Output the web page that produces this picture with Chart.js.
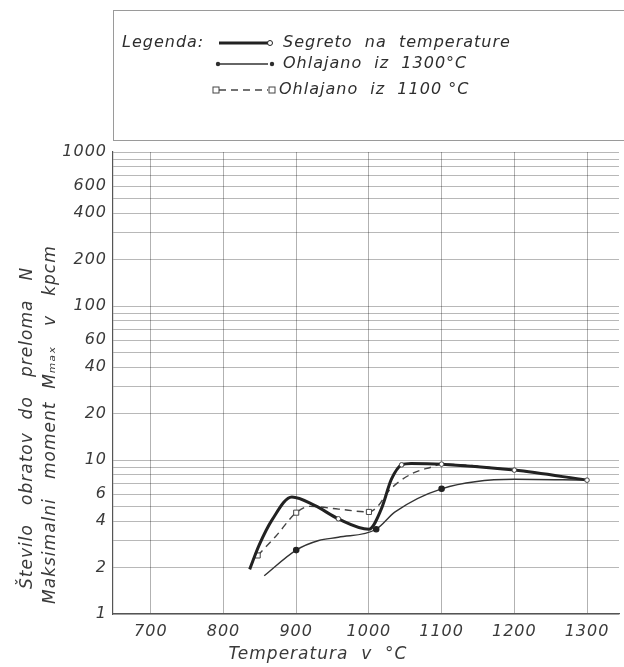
<!DOCTYPE html>
<html>
<head>
<meta charset="utf-8">
<script src="https://cdn.jsdelivr.net/npm/chart.js@4/dist/chart.umd.min.js"></script>
<style>
  html, body { margin: 0; padding: 0; background: #fff; }
  #wrap { width: 624px; height: 667px; }
</style>
</head>
<body>
<div id="wrap"><canvas id="chart" width="624" height="667"></canvas></div>
<script>
// values (temperature in degC, value on log scale)
const segretoTemp = [836, 849, 867, 894, 926, 958, 1000, 1017, 1031, 1045, 1058, 1100, 1200, 1300];
const segretoVal  = [1.95, 2.8, 4.1, 5.75, 5.05, 4.15, 3.55, 4.8, 7.5, 9.3, 9.5, 9.4, 8.6, 7.4];
const segretoMarks = [958, 1045, 1100, 1200, 1300];

const ohl1300Temp = [856, 900, 931, 958, 1010, 1036, 1100, 1200, 1300];
const ohl1300Val  = [1.77, 2.6, 3.0, 3.15, 3.55, 4.6, 6.5, 7.5, 7.4];
const ohl1300Marks = [900, 1010, 1100];

const ohl1100Temp = [847, 872, 900, 919, 958, 1000, 1013, 1026, 1058, 1086, 1100, 1200, 1300];
const ohl1100Val  = [2.4, 3.2, 4.55, 5.0, 4.8, 4.6, 5.05, 6.2, 8.1, 9.0, 9.4, 8.6, 7.4];
const ohl1100Marks = [847, 900, 1000];

const xTicks = [700, 800, 900, 1000, 1100, 1200, 1300];
const yLabels = [1, 2, 4, 6, 10, 20, 40, 60, 100, 200, 400, 600, 1000];

const seriesNames = ['Segreto  na  temperature', 'Ohlajano  iz  1300°C', 'Ohlajano  iz  1100 °C'];

const ink = '#2e2e2e';
const fontFam = "'DejaVu Sans', sans-serif";

function toPoints(xs, ys) {
  return xs.map((x, i) => ({ x: x, y: ys[i] }));
}

// log paper grid: 1..9 in every decade
function logGrid(min, max) {
  const out = [];
  for (let d = min; d < max; d *= 10) {
    for (let k = 1; k < 10; k++) out.push(k * d);
  }
  out.push(max);
  return out;
}

function markRadius(marks, r) {
  return ctx => (marks.includes(ctx.raw && ctx.raw.x) ? r : 0);
}

// hand drawn legend box above the plot
const legendBox = {
  id: 'legendBox',
  beforeLayout(chart) { chart.ctx.letterSpacing = '1px'; },
  beforeDraw(chart) { chart.ctx.letterSpacing = '1px'; },
  afterDraw(chart) {
    const c = chart.ctx;
    const ds = chart.data.datasets;
    c.save();
    c.strokeStyle = '#9a9a9a';
    c.lineWidth = 1;
    c.strokeRect(113.5, 10.5, 520, 130);

    c.fillStyle = ink;
    c.font = "italic 16px " + fontFam;
    c.textBaseline = 'middle';
    c.fillText('Legenda:', 122, 43);

    const rows = [43, 64, 90];
    rows.forEach((y, i) => {
      const d = ds[i];
      c.strokeStyle = d.borderColor;
      c.lineWidth = d.borderWidth;
      c.setLineDash(d.borderDash || []);
      c.beginPath();
      c.moveTo(219, y);
      c.lineTo(268, y);
      c.stroke();
      c.setLineDash([]);
      c.lineWidth = 1;
      if (i === 0) {
        c.fillStyle = '#fff';
        c.beginPath(); c.arc(270, y, 2.5, 0, Math.PI * 2); c.fill(); c.stroke();
      } else if (i === 1) {
        c.fillStyle = ink;
        [218, 272].forEach(px => { c.beginPath(); c.arc(px, y, 2.2, 0, Math.PI * 2); c.fill(); });
      } else {
        c.fillStyle = '#fff';
        [216, 272].forEach(px => { c.fillRect(px - 3, y - 3, 6, 6); c.strokeRect(px - 3, y - 3, 6, 6); });
      }
      c.fillStyle = ink;
      c.fillText(seriesNames[i], i === 2 ? 279 : 283, y);
    });
    c.restore();
  }
};

new Chart(document.getElementById('chart'), {
  type: 'line',
  data: {
    datasets: [
      {
        label: seriesNames[0],
        data: toPoints(segretoTemp, segretoVal),
        borderColor: '#222',
        borderWidth: 3,
        pointStyle: 'circle',
        pointRadius: markRadius(segretoMarks, 2.3),
        pointBackgroundColor: '#fff',
        pointBorderColor: '#444',
        pointBorderWidth: 1,
        cubicInterpolationMode: 'monotone'
      },
      {
        label: seriesNames[1],
        data: toPoints(ohl1300Temp, ohl1300Val),
        borderColor: '#333',
        borderWidth: 1.4,
        pointStyle: 'circle',
        pointRadius: markRadius(ohl1300Marks, 2.6),
        pointBackgroundColor: '#222',
        pointBorderColor: '#222',
        cubicInterpolationMode: 'monotone'
      },
      {
        label: seriesNames[2],
        data: toPoints(ohl1100Temp, ohl1100Val),
        borderColor: '#444',
        borderWidth: 1.4,
        borderDash: [7, 5],
        pointStyle: 'rect',
        pointRadius: markRadius(ohl1100Marks, 3.6),
        pointBackgroundColor: '#fff',
        pointBorderColor: '#444',
        pointBorderWidth: 1,
        cubicInterpolationMode: 'monotone'
      }
    ]
  },
  options: {
    responsive: false,
    animation: false,
    layout: { padding: { top: 152, right: 0, left: 0, bottom: 0 } },
    plugins: { legend: { display: false }, tooltip: { enabled: false } },
    scales: {
      x: {
        type: 'linear',
        min: 648,
        max: 1344,
        afterBuildTicks: s => { s.ticks = xTicks.map(v => ({ value: v })); },
        afterFit: s => { s.height = 53; },
        border: { color: '#555', width: 1.2 },
        grid: { color: 'rgba(0,0,0,0.3)', drawTicks: false },
        ticks: {
          padding: 8,
          color: '#3a3a3a',
          font: { family: fontFam, size: 16, style: 'italic' },
          callback: v => String(v)
        },
        title: {
          display: true,
          text: 'Temperatura  v  °C' + ' '.repeat(15),
          color: '#3a3a3a',
          padding: { top: 0, bottom: 2 },
          font: { family: fontFam, size: 17, style: 'italic' }
        }
      },
      y: {
        type: 'logarithmic',
        min: 1,
        max: 1000,
        afterBuildTicks: s => { s.ticks = logGrid(1, 1000).map(v => ({ value: v })); },
        afterFit: s => { s.width = 113; },
        border: { color: '#555', width: 1.2 },
        grid: { color: 'rgba(0,0,0,0.28)', drawTicks: false },
        ticks: {
          padding: 6,
          autoSkip: false,
          color: '#3a3a3a',
          font: { family: fontFam, size: 16, style: 'italic' },
          callback: v => (yLabels.includes(v) ? String(v) : '')
        },
        title: {
          display: true,
          text: ['Število   obratov  do   preloma   N' + ' '.repeat(14),
                 'Maksimalni   moment  Mₘₐₓ   v   kpcm' + ' '.repeat(13)],
          color: '#3a3a3a',
          padding: { top: 16, bottom: 0 },
          font: { family: fontFam, size: 17, style: 'italic', lineHeight: 1.35 }
        }
      }
    }
  },
  plugins: [legendBox]
});
</script>
</body>
</html>
